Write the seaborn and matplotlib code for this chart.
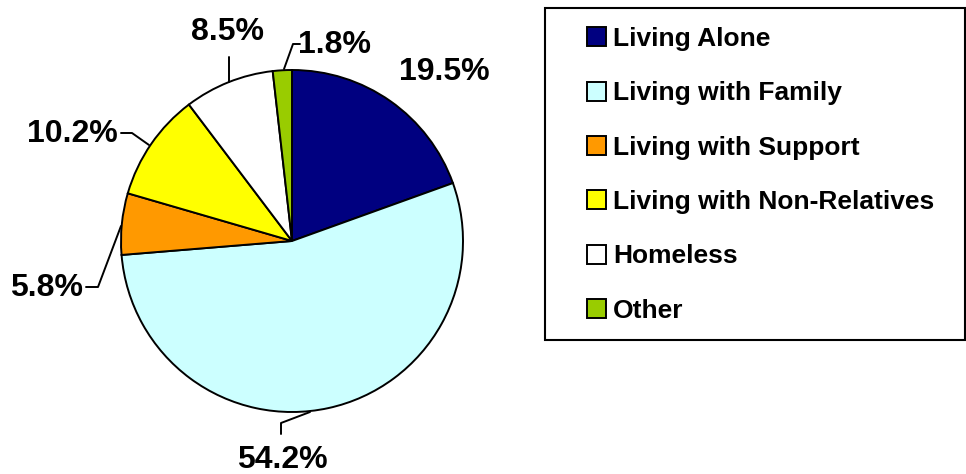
import matplotlib
matplotlib.use("Agg")
import matplotlib.pyplot as plt
import seaborn as sns
from matplotlib.patches import Rectangle

# Data
categories = ["Living Alone", "Living with Family", "Living with Support",
              "Living with Non-Relatives", "Homeless", "Other"]
shares = [19.5, 54.2, 5.8, 10.2, 8.5, 1.8]
colors = ["#000080", "#CCFFFF", "#FF9900", "#FFFF00", "#FFFFFF", "#99CC00"]

# label layout (pixel positions, top-down) and leader lines
label_pos = [(444, 72), (282, 460), (47, 288), (72, 134), (228, 32), (334, 45)]
leaders = [None,
           [(281, 434), (281, 423), (310, 412)],
           [(86, 287), (98, 287), (121, 226)],
           [(121, 133), (132, 133), (149, 145)],
           [(229, 57), (229, 82)],
           [(300, 44), (293, 44), (284, 69)]]

sns.set_style("white")
plt.rcParams["font.family"] = ["Liberation Sans", "DejaVu Sans"]
plt.rcParams["font.weight"] = "bold"
plt.rcParams["text.color"] = "black"

W, H = 966, 474
fig = plt.figure(figsize=(W / 100, H / 100), dpi=100)
ax = fig.add_axes([0, 0, 1, 1])


def px(x, y):
    return x, H - y


wedges, _ = ax.pie(shares, colors=sns.color_palette(colors), startangle=90,
                   counterclock=False, center=px(292, 241), radius=171,
                   wedgeprops=dict(edgecolor="black", linewidth=1.4))
ax.set_xlim(0, W)
ax.set_ylim(0, H)
ax.set_aspect("equal")
ax.axis("off")

for val, pos, lead in zip(shares, label_pos, leaders):
    ax.text(*px(*pos), f"{val:.1f}%", ha="center", va="center",
            fontsize=23, fontweight="bold", color="black")
    if lead:
        xs, ys = zip(*[px(*p) for p in lead])
        ax.plot(xs, ys, color="black", lw=1.4)

# legend box
ax.add_patch(Rectangle(px(545, 340), 420, 332, fill=False,
                       edgecolor="black", lw=1.5, clip_on=False))
handles = [Rectangle((0, 0), 1, 1, facecolor=c, edgecolor="black", lw=1.4)
           for c in colors]
fig.legend(handles, categories, loc="upper left",
           bbox_to_anchor=(587 / W, 1 - 27 / H), frameon=False,
           borderpad=0, borderaxespad=0,
           handlelength=0.72, handleheight=0.72, handletextpad=0.27,
           labelspacing=1.15, labelcolor="black",
           prop={"weight": "bold", "size": 19})

fig.savefig("out.png", dpi=100)
